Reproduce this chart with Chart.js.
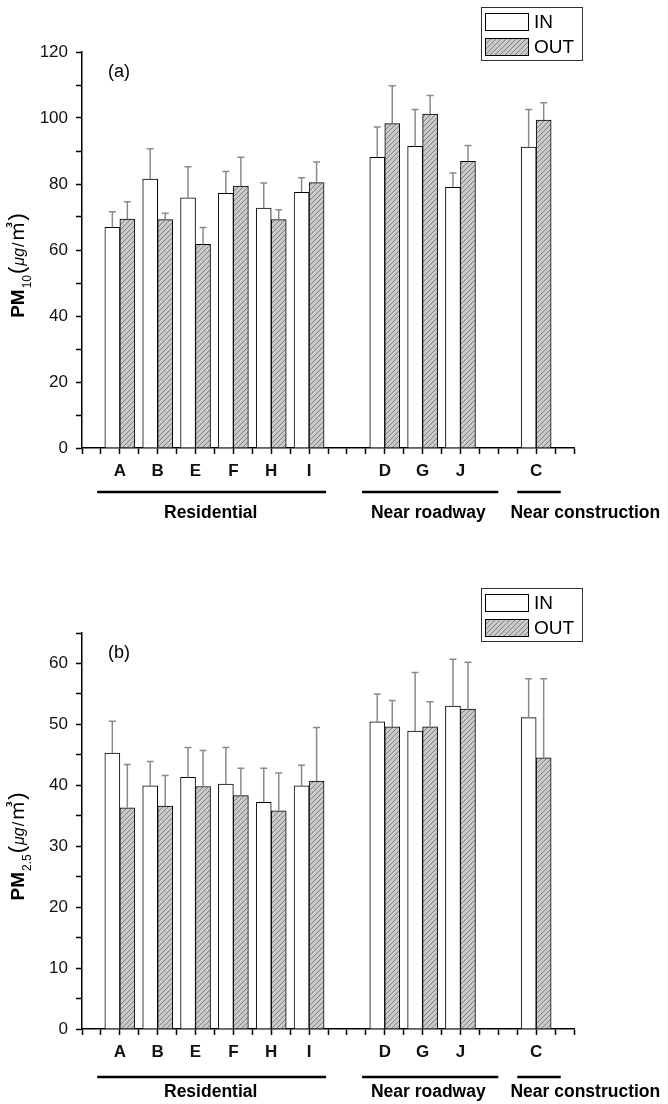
<!DOCTYPE html>
<html>
<head>
<meta charset="utf-8">
<script src="https://cdn.jsdelivr.net/npm/chart.js@4.4.1/dist/chart.umd.min.js"></script>
<style>
  body { margin: 0; background: #fff; }
  canvas { display: block; }
</style>
</head>
<body>
<canvas id="pm10" width="668" height="540"></canvas>
<canvas id="pm25" width="668" height="564"></canvas>
<script>
// sites along the x axis ('' = empty slot between groups)
const sites = ['A', 'B', 'E', 'F', 'H', 'I', '', 'D', 'G', 'J', '', 'C'];
const groups = ['Residential', 'Near roadway', 'Near construction'];
const groupFrom = [0.4, 7.4, 11.5];
const groupTo = [6.45, 11.0, 12.65];
const groupTextAt = [3.4, 9.15, 13.3];

// PM10 (ug/m3)
const pm10In = [66.9, 81.5, 75.8, 77.2, 72.7, 77.5, null, 88.1, 91.4, 79.0, null, 91.2];
const pm10InSd = [4.7, 9.2, 9.4, 6.6, 7.6, 4.4, null, 9.2, 11.2, 4.3, null, 11.4];
const pm10Out = [69.4, 69.2, 61.7, 79.4, 69.2, 80.4, null, 98.3, 101.2, 86.9, null, 99.4];
const pm10OutSd = [5.2, 1.9, 5.1, 8.7, 3.0, 6.3, null, 11.5, 5.6, 4.8, null, 5.2];

// PM2.5 (ug/m3)
const pm25In = [45.3, 39.9, 41.3, 40.2, 37.2, 39.9, null, 50.4, 48.9, 53.0, null, 51.1];
const pm25InSd = [5.2, 4.0, 4.9, 6.0, 5.6, 3.4, null, 4.6, 9.6, 7.7, null, 6.4];
const pm25Out = [36.3, 36.6, 39.8, 38.3, 35.8, 40.7, null, 49.6, 49.6, 52.5, null, 44.5];
const pm25OutSd = [7.1, 5.0, 5.9, 4.5, 6.2, 8.8, null, 4.3, 4.1, 7.7, null, 13.0];

const FONT = 'Arial, "Liberation Sans", sans-serif';

function hatch() {
  const c = document.createElement('canvas');
  c.width = 5; c.height = 5;
  const g = c.getContext('2d');
  g.fillStyle = '#c9c9c9';
  g.fillRect(0, 0, 5, 5);
  g.strokeStyle = '#707070';
  g.lineWidth = 0.8;
  g.beginPath();
  g.moveTo(0, 5); g.lineTo(5, 0);
  g.moveTo(-1, 1); g.lineTo(1, -1);
  g.moveTo(4, 6); g.lineTo(6, 4);
  g.stroke();
  return g.createPattern(c, 'repeat');
}

function points(vals, sds) {
  return sites.map((s, i) => vals[i] == null ? null : { x: i + 1, y: vals[i], sd: sds[i] })
    .filter(p => p);
}

// upper error bars
const errorBars = {
  id: 'errorBars',
  afterDatasetsDraw(chart) {
    const ctx = chart.ctx, y = chart.scales.y;
    chart.data.datasets.forEach((ds, di) => {
      chart.getDatasetMeta(di).data.forEach((bar, i) => {
        const p = ds.data[i];
        const top = y.getPixelForValue(p.y + p.sd);
        ctx.save();
        ctx.strokeStyle = '#8a8a8a';
        ctx.lineWidth = 1.5;
        ctx.beginPath();
        ctx.moveTo(bar.x, bar.y);
        ctx.lineTo(bar.x, top);
        ctx.moveTo(bar.x - 3.5, top);
        ctx.lineTo(bar.x + 3.5, top);
        ctx.stroke();
        ctx.restore();
      });
    });
  }
};

// legend box, panel letter, y title, group lines
const decor = {
  id: 'decor',
  afterDraw(chart, args, o) {
    const ctx = chart.ctx, a = chart.chartArea, x = chart.scales.x;
    ctx.save();
    // legend
    const lt = a.top - 45;
    ctx.strokeStyle = '#333';
    ctx.lineWidth = 1;
    ctx.fillStyle = '#fff';
    ctx.fillRect(481, lt, 101, 53);
    ctx.strokeRect(481.5, lt + 0.5, 101, 53);
    chart.data.datasets.forEach((ds, i) => {
      const sy = lt + 6 + i * 25;
      ctx.fillStyle = ds.backgroundColor;
      ctx.fillRect(485, sy, 43, 17);
      ctx.strokeStyle = '#000';
      ctx.strokeRect(485.5, sy + 0.5, 43, 17);
      ctx.fillStyle = '#000';
      ctx.font = '19px ' + FONT;
      ctx.textBaseline = 'middle';
      ctx.textAlign = 'left';
      ctx.fillText(ds.label, 534, sy + 10);
    });
    // panel letter
    ctx.font = '18px ' + FONT;
    ctx.fillText(o.panel, 108, a.top + 20);
    // group lines and names
    ctx.strokeStyle = '#000';
    ctx.lineWidth = 2.5;
    groups.forEach((g, i) => {
      ctx.beginPath();
      ctx.moveTo(x.getPixelForValue(groupFrom[i]), a.bottom + o.lineOff);
      ctx.lineTo(x.getPixelForValue(groupTo[i]), a.bottom + o.lineOff);
      ctx.stroke();
      ctx.font = 'bold 17.5px ' + FONT;
      ctx.textAlign = 'center';
      ctx.fillText(g, x.getPixelForValue(groupTextAt[i]), a.bottom + o.textOff);
    });
    // y title, rotated
    ctx.translate(17, (a.top + a.bottom) / 2 + 15);
    ctx.rotate(-Math.PI / 2);
    ctx.textAlign = 'left';
    ctx.textBaseline = 'alphabetic';
    const parts = [
      ['PM', 'bold 19px ' + FONT, 0],
      [o.sub, '12px ' + FONT, 7],
      ['(', '22px ' + FONT, 0],
      ['μg', 'italic 16px ' + FONT, 0],
      ['/', '16px ' + FONT, 0],
      ['㎥', '20px ' + FONT + ', "Noto Sans CJK SC"', 0],
      [')', '22px ' + FONT, 0]
    ];
    let total = 0;
    parts.forEach(p => { ctx.font = p[1]; total += ctx.measureText(p[0]).width + 1; });
    let cx = -total / 2;
    parts.forEach(p => {
      ctx.font = p[1];
      ctx.fillText(p[0], cx, 7 + p[2]);
      cx += ctx.measureText(p[0]).width + 1;
    });
    ctx.restore();
  }
};

function makeChart(id, c) {
  return new Chart(document.getElementById(id), {
    type: 'bar',
    data: {
      datasets: [
        { label: 'IN', data: points(c.inVals, c.inSd), backgroundColor: '#fff',
          borderColor: '#000', borderWidth: 1, barThickness: 15 },
        { label: 'OUT', data: points(c.outVals, c.outSd), backgroundColor: hatch(),
          borderColor: '#000', borderWidth: 1, barThickness: 15 }
      ]
    },
    options: {
      responsive: false,
      animation: false,
      layout: { padding: { top: c.padTop, right: 94, left: 0, bottom: 0 } },
      plugins: {
        legend: { display: false },
        tooltip: { enabled: false },
        decor: { panel: c.panel, sub: c.sub, lineOff: c.lineOff, textOff: c.textOff }
      },
      scales: {
        x: {
          type: 'linear', min: 0, max: 13, offset: false,
          grid: { drawOnChartArea: false, tickLength: 6, tickColor: '#000', tickWidth: 1.5, offset: false },
          border: { color: '#000', width: 1.5 },
          ticks: {
            stepSize: 0.5, autoSkip: false, maxRotation: 0, padding: 7, color: '#111',
            font: { family: FONT, size: 17, weight: 'bold' },
            callback: v => Math.abs(v - Math.round(v)) < 1e-6 && v >= 1 && v <= sites.length ? sites[Math.round(v) - 1] : ''
          },
          afterFit: s => { s.height = c.xHeight; }
        },
        y: {
          min: 0, max: c.yMax,
          grid: { drawOnChartArea: false, tickLength: 6, tickColor: '#000', tickWidth: 1.5 },
          border: { color: '#000', width: 1.5 },
          ticks: {
            stepSize: c.yStep, padding: 8, color: '#111',
            font: { family: FONT, size: 17 },
            callback: v => v % c.yLabelStep === 0 ? v : ''
          },
          afterFit: s => { s.width = 82; }
        }
      }
    },
    plugins: [errorBars, decor]
  });
}

makeChart('pm10', {
  inVals: pm10In, inSd: pm10InSd, outVals: pm10Out, outSd: pm10OutSd,
  yMax: 120, yStep: 10, yLabelStep: 20, panel: '(a)', sub: '10',
  padTop: 52, xHeight: 92, lineOff: 44, textOff: 65
});

makeChart('pm25', {
  inVals: pm25In, inSd: pm25InSd, outVals: pm25Out, outSd: pm25OutSd,
  yMax: 65, yStep: 5, yLabelStep: 10, panel: '(b)', sub: '2.5',
  padTop: 93, xHeight: 75, lineOff: 48, textOff: 63
});
</script>
</body>
</html>
